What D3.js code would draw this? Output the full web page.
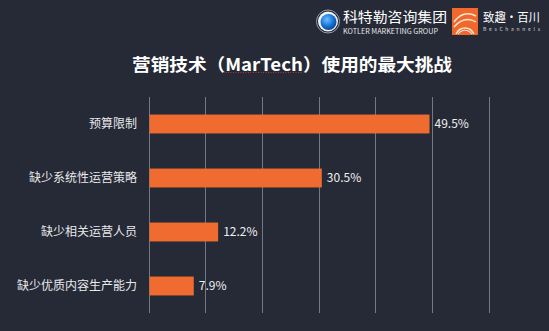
<!DOCTYPE html>
<html><head><meta charset="utf-8">
<script src="https://cdn.jsdelivr.net/npm/d3@7"></script>
<style>
html,body{margin:0;padding:0;background:#252a36;}
svg{display:block;}
text{font-family:"Noto Sans CJK SC","Noto Sans",sans-serif;}
</style></head>
<body>
<script>
const categories = ["预算限制","缺少系统性运营策略","缺少相关运营人员","缺少优质内容生产能力"];
const values = [49.5, 30.5, 12.2, 7.9];
const valueLabels = ["49.5%","30.5%","12.2%","7.9%"];
const gridTicks = [0,10,20,30,40,50,60];
const title = "营销技术（MarTech）使用的最大挑战";

const W = 549, H = 331;
const svg = d3.select("body").append("svg").attr("width", W).attr("height", H);
svg.append("rect").attr("width", W).attr("height", H).attr("fill", "#252a36");

const defs = svg.append("defs");
const rg = defs.append("radialGradient").attr("id","blueG").attr("cx","40%").attr("cy","35%").attr("r","70%");
rg.append("stop").attr("offset","0%").attr("stop-color","#6fc0ff");
rg.append("stop").attr("offset","55%").attr("stop-color","#1a78d8");
rg.append("stop").attr("offset","100%").attr("stop-color","#0b3f8f");

// Logo 1
const l1 = svg.append("g");
l1.append("circle").attr("cx",328).attr("cy",21.5).attr("r",11.5).attr("fill","#1c2230").attr("stroke","#9aa3b0").attr("stroke-width",1);
l1.append("circle").attr("cx",328).attr("cy",21.5).attr("r",10).attr("fill","#f2f4f7");
l1.append("circle").attr("cx",328.5).attr("cy",22).attr("r",8).attr("fill","url(#blueG)");
l1.append("text").attr("x",343).attr("y",22).attr("fill","#ffffff").attr("font-size",13.5).attr("textLength",104).attr("lengthAdjust","spacingAndGlyphs").text("科特勒咨询集团");
l1.append("text").attr("x",343).attr("y",34).attr("fill","#e8e8e8").attr("font-size",7).attr("font-family","Liberation Sans Narrow, Liberation Sans, sans-serif").attr("textLength",95).attr("lengthAdjust","spacingAndGlyphs").text("KOTLER MARKETING GROUP");

// Logo 2
const l2 = svg.append("g");
l2.append("rect").attr("x",452).attr("y",8).attr("width",26).attr("height",27).attr("fill","#f0682c");
const arcs = ["M454,22 C460,14 468,12 476,16","M454,27 C461,19 469,18 476,22","M456,34 C460,26 470,26 474,34"];
arcs.forEach(a => l2.append("path").attr("d",a).attr("fill","none").attr("stroke","#fde6d6").attr("stroke-width",1.4));
l2.append("path").attr("d","M458,34 C462,29 468,29 472,34").attr("fill","none").attr("stroke","#fde6d6").attr("stroke-width",1.2);
l2.append("text").attr("x",483).attr("y",22).attr("fill","#ffffff").attr("font-size",12).attr("textLength",57).attr("lengthAdjust","spacingAndGlyphs").text("致趣·百川");
l2.append("text").attr("x",483).attr("y",31).attr("fill","#d8d8d8").attr("font-size",5).attr("textLength",57).attr("lengthAdjust","spacing").text("BesChannels");

// Title
svg.append("text").attr("x",132).attr("y",71).attr("fill","#ffffff").attr("font-size",17.5).attr("font-weight","bold")
  .attr("textLength",320).attr("lengthAdjust","spacingAndGlyphs").text(title);
svg.append("line").attr("x1",223).attr("x2",302).attr("y1",72.5).attr("y2",72.5).attr("stroke","#c0303a").attr("stroke-width",1).attr("stroke-dasharray","1,1.5");

// Scales
const x = d3.scaleLinear().domain([0,60]).range([149,489]);
const y = d3.scaleBand().domain(categories).range([97,313]).paddingInner(0.65).paddingOuter(0.325);

// Grid
svg.append("g").selectAll("line").data(gridTicks).join("line")
  .attr("x1",d=>x(d)).attr("x2",d=>x(d)).attr("y1",97).attr("y2",313)
  .attr("stroke","#737882").attr("stroke-width",1).attr("shape-rendering","crispEdges");

// Bars
svg.append("g").selectAll("rect").data(categories).join("rect")
  .attr("x",x(0)+0.5).attr("y",d=>y(d)).attr("height",y.bandwidth())
  .attr("width",(d,i)=>x(values[i])-x(0)-0.5).attr("fill","#ef6b30");

// Category labels
const yAxis = d3.axisLeft(y).tickSize(0).tickPadding(12);
const ga = svg.append("g").attr("transform",`translate(${x(0)},0)`).call(yAxis);
ga.select(".domain").remove();
ga.selectAll("text").attr("fill","#e9e9ec").attr("font-size",12).attr("font-family","Noto Sans CJK SC, sans-serif");

// Value labels
svg.append("g").selectAll("text").data(categories).join("text")
  .attr("x",(d,i)=>x(values[i])+5).attr("y",d=>y(d)+y.bandwidth()/2).attr("dy","0.35em")
  .attr("fill","#f0f0f2").attr("font-size",12).text((d,i)=>valueLabels[i]);
</script>
</body></html>
